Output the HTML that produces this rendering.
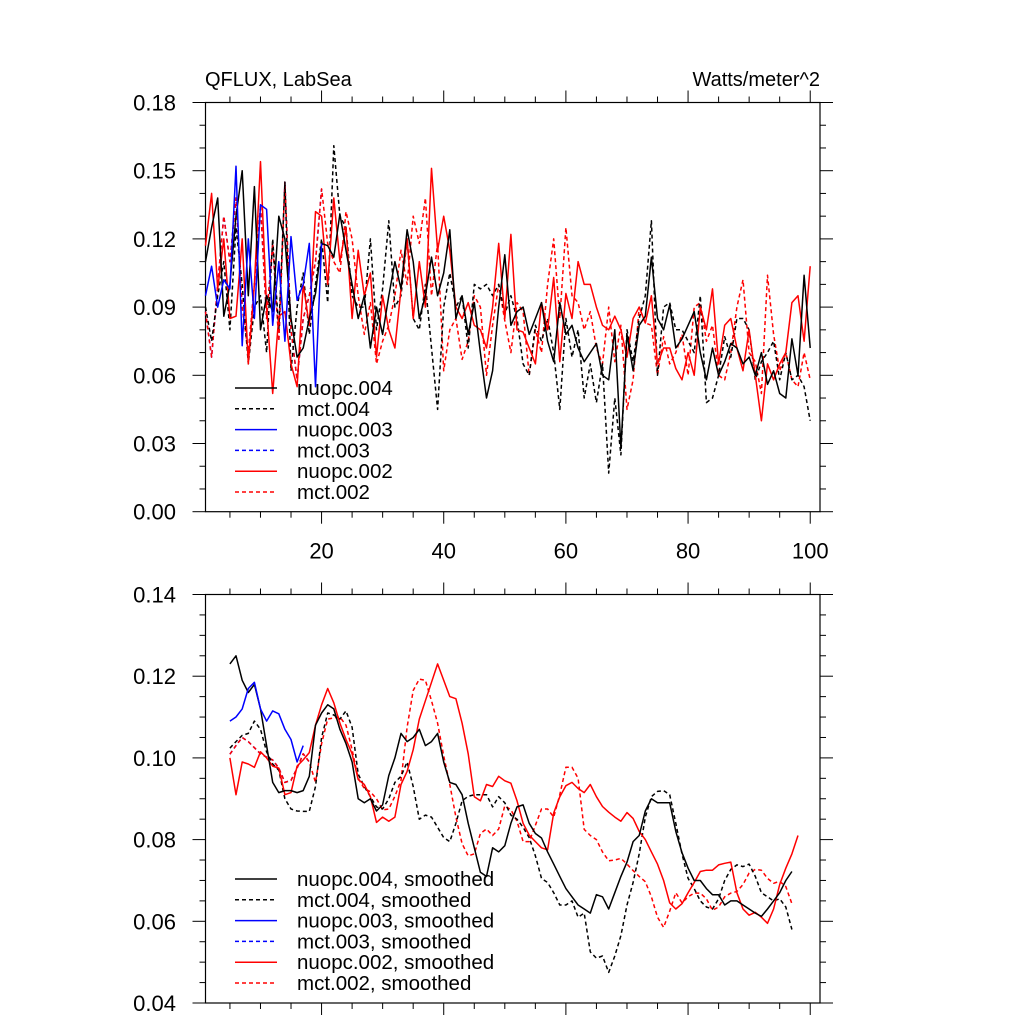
<!DOCTYPE html>
<html><head><meta charset="utf-8"><style>
html,body{margin:0;padding:0;background:#fff;}
svg{display:block;font-family:"Liberation Sans",sans-serif;}
</style></head><body>
<svg id="chart" width="1024" height="1024" viewBox="0 0 1024 1024" xmlns="http://www.w3.org/2000/svg">
<text x="205" y="86" font-size="20">QFLUX, LabSea</text>
<text x="820" y="86" font-size="20" text-anchor="end">Watts/meter^2</text>
<g id="top"></g>
<g id="bot"></g>
</svg>
<script>
const xTicks=[20,40,60,80,100];
const topYTicks=["0.00","0.03","0.06","0.09","0.12","0.15","0.18"];
const botYTicks=["0.04","0.06","0.08","0.10","0.12","0.14"];
const rawNuopc004=[0.110,0.125,0.138,0.086,0.100,0.130,0.150,0.095,0.143,0.080,0.095,0.088,0.130,0.120,0.085,0.068,0.072,0.085,0.096,0.118,0.117,0.112,0.131,0.115,0.100,0.085,0.095,0.072,0.090,0.078,0.095,0.110,0.098,0.124,0.110,0.085,0.095,0.112,0.095,0.105,0.124,0.085,0.095,0.078,0.092,0.070,0.050,0.062,0.090,0.113,0.082,0.088,0.090,0.078,0.085,0.092,0.075,0.066,0.092,0.078,0.082,0.072,0.066,0.070,0.074,0.060,0.058,0.080,0.028,0.078,0.062,0.082,0.086,0.112,0.085,0.080,0.091,0.072,0.076,0.082,0.088,0.070,0.058,0.072,0.060,0.066,0.074,0.072,0.065,0.068,0.060,0.070,0.056,0.062,0.052,0.050,0.076,0.060,0.104,0.072];
const rawMct004=[0.090,0.075,0.095,0.110,0.080,0.125,0.100,0.065,0.090,0.095,0.070,0.120,0.080,0.145,0.062,0.090,0.105,0.078,0.100,0.120,0.092,0.161,0.130,0.125,0.095,0.090,0.090,0.120,0.080,0.098,0.128,0.090,0.095,0.120,0.085,0.080,0.100,0.072,0.045,0.090,0.105,0.090,0.095,0.072,0.100,0.098,0.100,0.095,0.100,0.087,0.095,0.085,0.065,0.060,0.082,0.075,0.085,0.070,0.045,0.085,0.068,0.080,0.050,0.065,0.048,0.065,0.017,0.050,0.025,0.080,0.066,0.085,0.095,0.128,0.060,0.090,0.092,0.080,0.080,0.075,0.070,0.095,0.048,0.050,0.060,0.077,0.068,0.085,0.085,0.080,0.058,0.066,0.070,0.075,0.058,0.070,0.058,0.060,0.055,0.040];
const rawNuopc003=[0.095,0.108,0.090,0.102,0.098,0.152,0.073,0.120,0.085,0.135,0.133,0.082,0.110,0.075,0.121,0.093,0.100,0.118,0.055,0.118];
const rawNuopc002=[0.117,0.140,0.098,0.120,0.085,0.086,0.120,0.065,0.100,0.154,0.090,0.052,0.086,0.088,0.065,0.055,0.100,0.082,0.132,0.130,0.100,0.138,0.110,0.125,0.085,0.115,0.095,0.105,0.068,0.095,0.080,0.072,0.098,0.120,0.085,0.110,0.090,0.151,0.115,0.130,0.115,0.090,0.085,0.092,0.082,0.080,0.072,0.090,0.118,0.085,0.122,0.080,0.079,0.072,0.065,0.092,0.080,0.103,0.066,0.096,0.085,0.110,0.100,0.100,0.090,0.082,0.080,0.086,0.080,0.068,0.085,0.090,0.083,0.095,0.065,0.072,0.072,0.063,0.058,0.070,0.060,0.090,0.080,0.098,0.065,0.082,0.085,0.072,0.062,0.080,0.060,0.040,0.065,0.058,0.065,0.070,0.092,0.095,0.075,0.108];
const rawMct002=[0.088,0.068,0.100,0.130,0.110,0.138,0.090,0.070,0.100,0.135,0.085,0.118,0.075,0.145,0.080,0.058,0.085,0.095,0.110,0.142,0.118,0.110,0.105,0.132,0.120,0.095,0.078,0.092,0.065,0.075,0.082,0.095,0.115,0.100,0.130,0.118,0.138,0.095,0.118,0.062,0.080,0.085,0.067,0.075,0.095,0.090,0.060,0.082,0.100,0.084,0.070,0.092,0.088,0.060,0.080,0.070,0.100,0.120,0.085,0.125,0.095,0.092,0.080,0.088,0.072,0.065,0.090,0.066,0.082,0.045,0.058,0.090,0.083,0.082,0.060,0.077,0.065,0.070,0.078,0.060,0.090,0.092,0.075,0.082,0.060,0.058,0.070,0.090,0.102,0.070,0.066,0.052,0.104,0.078,0.062,0.070,0.058,0.055,0.070,0.058];
const rawMct003=[0.088,0.068,0.100,0.130,0.110,0.138,0.090,0.070,0.100,0.135,0.085,0.118,0.075,0.145,0.080,0.058,0.085,0.095,0.110,0.142];
const smStart=5;
const smNuopc004=[0.123,0.125,0.119,0.116,0.118,0.112,0.103,0.094,0.0915,0.092,0.092,0.0915,0.092,0.0955,0.108,0.111,0.113,0.112,0.107,0.1035,0.099,0.090,0.089,0.090,0.087,0.0885,0.0957,0.100,0.106,0.104,0.105,0.107,0.103,0.104,0.106,0.099,0.094,0.0935,0.091,0.084,0.078,0.072,0.071,0.078,0.077,0.0785,0.084,0.088,0.0885,0.084,0.0815,0.0804,0.077,0.074,0.071,0.068,0.066,0.064,0.063,0.062,0.0665,0.066,0.063,0.067,0.071,0.0745,0.0795,0.081,0.087,0.090,0.089,0.089,0.089,0.082,0.0768,0.073,0.070,0.070,0.068,0.0665,0.0665,0.064,0.065,0.065,0.064,0.063,0.062,0.0612,0.063,0.065,0.067,0.070,0.0722];
const smMct004=[0.1024,0.104,0.1055,0.106,0.109,0.107,0.1015,0.0985,0.097,0.090,0.0875,0.087,0.0869,0.0869,0.093,0.105,0.111,0.1105,0.1095,0.1115,0.1075,0.096,0.093,0.0905,0.088,0.0875,0.090,0.094,0.0955,0.099,0.093,0.085,0.086,0.0855,0.083,0.0805,0.0795,0.084,0.0895,0.0906,0.091,0.091,0.091,0.088,0.0905,0.089,0.086,0.085,0.083,0.0805,0.076,0.0705,0.0695,0.067,0.064,0.064,0.065,0.061,0.062,0.0525,0.051,0.0515,0.0475,0.0515,0.0565,0.064,0.0695,0.0765,0.0855,0.0905,0.0918,0.092,0.091,0.084,0.0765,0.0705,0.068,0.065,0.0635,0.063,0.0655,0.070,0.0727,0.0738,0.0734,0.074,0.071,0.067,0.066,0.065,0.0655,0.0635,0.058];
const smNuopc003=[0.109,0.110,0.112,0.117,0.1185,0.112,0.109,0.1115,0.1108,0.107,0.1045,0.099,0.103];
const smMct003=[0.1009,0.103,0.105,0.104,0.1025,0.101,0.1002,0.0995,0.0975,0.094,0.0945,0.0975,0.101,0.099];
const smNuopc002=[0.100,0.091,0.099,0.0985,0.0977,0.1015,0.100,0.098,0.0975,0.091,0.0915,0.098,0.0995,0.1013,0.108,0.113,0.117,0.1135,0.1085,0.1045,0.101,0.0947,0.0935,0.0905,0.0842,0.0855,0.0845,0.0855,0.0935,0.0967,0.102,0.1095,0.114,0.1185,0.123,0.119,0.115,0.1145,0.1085,0.101,0.0905,0.0895,0.0935,0.093,0.0955,0.0944,0.0938,0.0895,0.084,0.0811,0.0795,0.078,0.0775,0.0865,0.0905,0.0932,0.094,0.0925,0.0915,0.0935,0.0905,0.0881,0.0867,0.0855,0.0845,0.0866,0.0852,0.082,0.080,0.077,0.074,0.070,0.0645,0.063,0.0643,0.067,0.0695,0.0722,0.0725,0.0725,0.0738,0.0742,0.0745,0.067,0.063,0.0615,0.0622,0.061,0.0595,0.063,0.069,0.073,0.0765,0.081];
const smMct002=[0.1009,0.103,0.105,0.104,0.1025,0.101,0.1002,0.0995,0.0975,0.094,0.0945,0.0975,0.101,0.099,0.094,0.1035,0.1095,0.1098,0.110,0.108,0.102,0.095,0.0925,0.0917,0.090,0.0873,0.0875,0.0906,0.0945,0.1075,0.1165,0.1193,0.119,0.114,0.1085,0.1005,0.0935,0.0855,0.079,0.076,0.0765,0.0815,0.0826,0.081,0.0826,0.0883,0.0873,0.0845,0.0795,0.0795,0.0835,0.0875,0.0875,0.0855,0.091,0.0977,0.0977,0.095,0.0825,0.081,0.080,0.077,0.0748,0.075,0.0754,0.074,0.0724,0.071,0.0697,0.066,0.061,0.0585,0.0625,0.067,0.0645,0.066,0.0669,0.0669,0.0655,0.0627,0.0635,0.066,0.0669,0.0673,0.069,0.0718,0.0727,0.0725,0.0705,0.0693,0.0698,0.0685,0.0643];

const NS="http://www.w3.org/2000/svg";
const X0=205.5,X1=820,XMIN=1,XMAX=101.6;
function xs(v){return X0+(v-XMIN)/(XMAX-XMIN)*(X1-X0);}
function mk(tag,attrs,parent){const e=document.createElementNS(NS,tag);for(const k in attrs)e.setAttribute(k,attrs[k]);parent.appendChild(e);return e;}

function panel(g,top,bot,ymin,ymax,yticks,minorStep,showXLabels,series,legend,legendY,prefix){
  const ys=v=>bot-(v-ymin)/(ymax-ymin)*(bot-top);
  const frame=mk('rect',{x:X0,y:top,width:X1-X0,height:bot-top,fill:'none',stroke:'#000','stroke-width':1.2},g);
  
  
  for(let v=5;v<=100;v+=5){
    const major=v%20===0, L=major?12:6, x=xs(v);
    const t1=mk('line',{x1:x,x2:x,y1:bot,y2:bot+L,stroke:'#000','stroke-width':1},g);
    
    
    const t2=mk('line',{x1:x,x2:x,y1:top,y2:top-L,stroke:'#000','stroke-width':1},g);
    
    
  }
  if(showXLabels){xTicks.forEach(v=>{
    const t=mk('text',{x:xs(v),y:bot+47,'font-size':22,'text-anchor':'middle'},g);t.textContent=v;
    
    
  });}
  const n=Math.round((ymax-ymin)/minorStep);
  const majorStep=parseFloat(yticks[1])-parseFloat(yticks[0]);
  for(let i=0;i<=n;i++){
    const v=ymin+i*minorStep, y=ys(v);
    const isMajor=Math.abs(((v-ymin)/majorStep)-Math.round((v-ymin)/majorStep))<1e-6;
    const L=isMajor?13:6;
    const a=mk('line',{x1:X0-L,x2:X0,y1:y,y2:y,stroke:'#000','stroke-width':1},g);
    
    
    const b=mk('line',{x1:X1,x2:X1+L,y1:y,y2:y,stroke:'#000','stroke-width':1},g);
    
    
  }
  yticks.forEach(s=>{
    const t=mk('text',{x:176,y:ys(parseFloat(s))+8,'font-size':22,'text-anchor':'end'},g);t.textContent=s;
    
    
  });
  series.forEach(s=>{
    const pts=s.data.map((v,i)=>xs(s.start+i).toFixed(1)+','+ys(v).toFixed(1)).join(' ');
    const attrs={points:pts,fill:'none',stroke:s.color,'stroke-width':1.5,'stroke-linejoin':'round'};
    if(s.dash)attrs['stroke-dasharray']='4 3';
    const p=mk('polyline',attrs,g);
    
    
  });
  legend.forEach((l,i)=>{
    const y=legendY+i*20.8;
    const ln=mk('line',{x1:235,x2:277,y1:y,y2:y,stroke:l.color,'stroke-width':1.5},g);
    if(l.dash)ln.setAttribute('stroke-dasharray','4 3');
    
    
    const t=mk('text',{x:297,y:y+7,'font-size':20.5},g);t.textContent=l.label;
    
    
  });
}
const leg=[{color:'#000',dash:false,l:'nuopc.004'},{color:'#000',dash:true,l:'mct.004'},{color:'#0000ff',dash:false,l:'nuopc.003'},{color:'#0000ff',dash:true,l:'mct.003'},{color:'#ff0000',dash:false,l:'nuopc.002'},{color:'#ff0000',dash:true,l:'mct.002'}];
panel(document.getElementById('top'),102.5,511.7,0,0.18,topYTicks,0.01,true,[
 {name:'raw-mct003',data:rawMct003,start:1,color:'#0000ff',dash:true},
 {name:'raw-mct002',data:rawMct002,start:1,color:'#ff0000',dash:true},
 {name:'raw-mct004',data:rawMct004,start:1,color:'#000',dash:true},
 {name:'raw-nuopc002',data:rawNuopc002,start:1,color:'#ff0000',dash:false},
 {name:'raw-nuopc004',data:rawNuopc004,start:1,color:'#000',dash:false},
 {name:'raw-nuopc003',data:rawNuopc003,start:1,color:'#0000ff',dash:false}
],leg.map(o=>({color:o.color,dash:o.dash,label:o.l})),388,'top');
panel(document.getElementById('bot'),594.5,1003,0.04,0.14,botYTicks,0.005,false,[
 {name:'smoothed-mct003',data:smMct003,start:smStart,color:'#0000ff',dash:true},
 {name:'smoothed-mct002',data:smMct002,start:smStart,color:'#ff0000',dash:true},
 {name:'smoothed-mct004',data:smMct004,start:smStart,color:'#000',dash:true},
 {name:'smoothed-nuopc002',data:smNuopc002,start:smStart,color:'#ff0000',dash:false},
 {name:'smoothed-nuopc004',data:smNuopc004,start:smStart,color:'#000',dash:false},
 {name:'smoothed-nuopc003',data:smNuopc003,start:smStart,color:'#0000ff',dash:false}
],leg.map(o=>({color:o.color,dash:o.dash,label:o.l+', smoothed'})),879,'bottom');
</script>
</body></html>
